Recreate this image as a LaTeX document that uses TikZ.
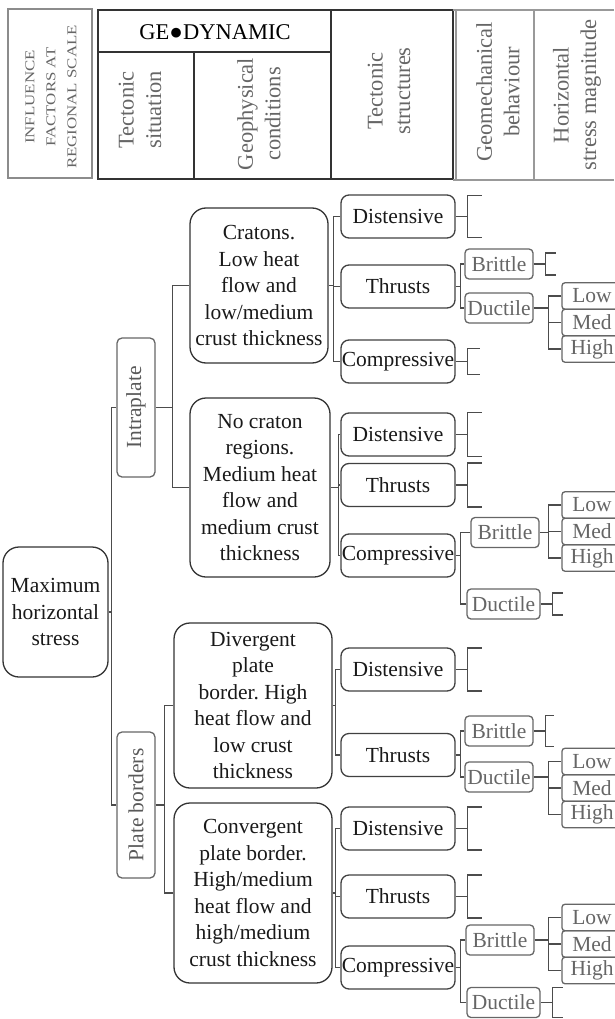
\documentclass[tikz,border=0pt]{standalone}
\usepackage{fontspec}
\setmainfont{Liberation Serif}
\frenchspacing
\newcommand{\mainsz}{\fontsize{21.5}{26.5}\selectfont}
\newcommand{\headsz}{\fontsize{22.5}{27.5}\selectfont}
\newcommand{\wide}[1]{\scalebox{1.25}[1]{#1}}
\begin{document}
\begin{tikzpicture}[x=1pt, y=-1pt, every node/.style={inner sep=0pt, font=\mainsz},
  big/.style={draw=black!80, line width=1.3, rounded corners=16pt, align=center, text=black!90},
  sit/.style={draw=black!60, line width=1.3, rounded corners=5pt, minimum width=38, text=black!65},
  tect/.style={draw=black!75, line width=1.3, rounded corners=8pt, minimum width=114, minimum height=43, text=black!90},
  geo/.style={draw=black!60, line width=1.3, rounded corners=4pt, minimum width=68, minimum height=30, text=black!60},
  mag/.style={draw=black!60, line width=1.3, rounded corners=3pt, minimum width=60, minimum height=26.5, text=black!60},
  hd/.style={font=\headsz, align=center, text=black!60},
  link/.style={draw=black!70, line width=1.3}]
  \useasboundingbox (0,0) rectangle (614,1019);
  \draw[black!45, line width=1.8] (8,9) rectangle (92,178);
  \draw[black!80, line width=1.2] (98,10) rectangle (331,179) (98,52) -- (331,52) (194,52) -- (194,179)
    (331,10) -- (453,10) -- (453,179) -- (331,179);
  \draw[black!40, line width=1.6] (453,10) -- (614,10) (453,180) -- (614,180) (534,10) -- (534,180) (456,10) -- (456,180);
  \node[font=\headsz] at (215,32) {GE●DYNAMIC};
  \node[hd, rotate=90, font=\fontsize{13.5}{21}\selectfont, text=black!60] at (51,97)
    {\wide{INFLUENCE}\\\wide{FACTORS AT}\\\wide{REGIONAL SCALE}};
  \foreach \x/\y/\txt in {140/110/Tectonic\\situation, 259/114/Geophysical\\conditions,
    389/91/Tectonic\\structures, 498/92/Geomechanical\\behaviour, 577/95/Horizontal\\stress magnitude}
    \node[hd, rotate=90] at (\x,\y) {\txt};

  \node[big, minimum width=105, minimum height=130] (root) at (55.5,612) {Maximum\\horizontal\\stress};
  \foreach \n/\y/\h/\txt in {intra/407.5/139/Intraplate, plate/805/146/Plate borders}
    \node[sit, minimum height=\h] (\n) at (136,\y) {\rotatebox{90}{\txt}};
  \node[big, minimum width=138, minimum height=155] (craton) at (259,285.5)
    {Cratons.\\Low heat\\flow and\\low/medium\\crust thickness};
  \node[big, minimum width=140, minimum height=179] (nocrat) at (260,487.5)
    {No craton\\regions.\\Medium heat\\flow and\\medium crust\\thickness};
  \node[big, minimum width=158, minimum height=165] (diverg) at (253,705.5)
    {Divergent\\plate\\border. High\\heat flow and\\low crust\\thickness};
  \node[big, minimum width=158, minimum height=180] (converg) at (253,893)
    {Convergent\\plate border.\\High/medium\\heat flow and\\high/medium\\crust thickness};

  \foreach \n/\y/\txt in {c1dist/216.5/Distensive, c1thr/286.5/Thrusts, c1comp/361.5/Compressive,
    c2dist/434.5/Distensive, c2thr/485/Thrusts, c2comp/555.5/Compressive,
    c3dist/669.5/Distensive, c3thr/755/Thrusts,
    c4dist/828.5/Distensive, c4thr/896.5/Thrusts, c4comp/967.5/Compressive}
    \node[tect] (\n) at (398,\y) {\txt};
  \foreach \n/\x/\y/\w/\txt in {c1brit/499/264/68/Brittle, c1duct/499/308/68/Ductile,
    c2brit/505/532.5/68/Brittle, c2duct/503.5/604/73/Ductile,
    c3brit/499/731/68/Brittle, c3duct/499/777/68/Ductile,
    c4brit/500/940/68/Brittle, c4duct/503.5/1002.5/73/Ductile}
    \node[geo, minimum width=\w] (\n) at (\x,\y) {\txt};
  \foreach \g/\y in {c1/296, c2/505, c3/761.5, c4/917.5} {
    \node[mag] (\g-low) at (592,\y) {Low};
    \node[mag] (\g-med) at (592,\y+26.5) {Med};
    \node[mag] (\g-high) at (592,\y+53) {High};
  }

  \foreach \p/\d/\cs in {root/3/{intra,plate}, intra/17/{craton,nocrat}, plate/9/{diverg,converg},
    craton/5/{c1dist,c1thr,c1comp}, nocrat/8/{c2dist,c2thr,c2comp}, diverg/3/{c3dist,c3thr},
    converg/3/{c4dist,c4thr,c4comp}, c1thr/5/{c1brit,c1duct}, c2comp/5/{c2brit,c2duct},
    c3thr/5/{c3brit,c3duct}, c4comp/5/{c4brit,c4duct}, c1duct/15/{c1-low,c1-med,c1-high},
    c2brit/9/{c2-low,c2-med,c2-high}, c3duct/15/{c3-low,c3-med,c3-high}, c4brit/14/{c4-low,c4-med,c4-high}} {
    \path (\p.east) ++(\d,0) coordinate (k);
    \draw[link] (\p.east) -- (k);
    \foreach \c in \cs \draw[link] (\c.west) -| (k);
  }
  \foreach \n/\h/\e in {c1dist/42/14, c1comp/26/12, c2dist/44/14, c2thr/44/14, c3dist/43/14,
    c4dist/43/14, c4thr/43/14, c1brit/22/10, c2duct/22/10, c3brit/31/8, c4duct/30/10}
    \draw[link] (\n.east) -- ++(12,0) ++(\e,-\h/2) -- ++(-\e,0) -- ++(0,\h) -- ++(\e,0);
\end{tikzpicture}
\end{document}
